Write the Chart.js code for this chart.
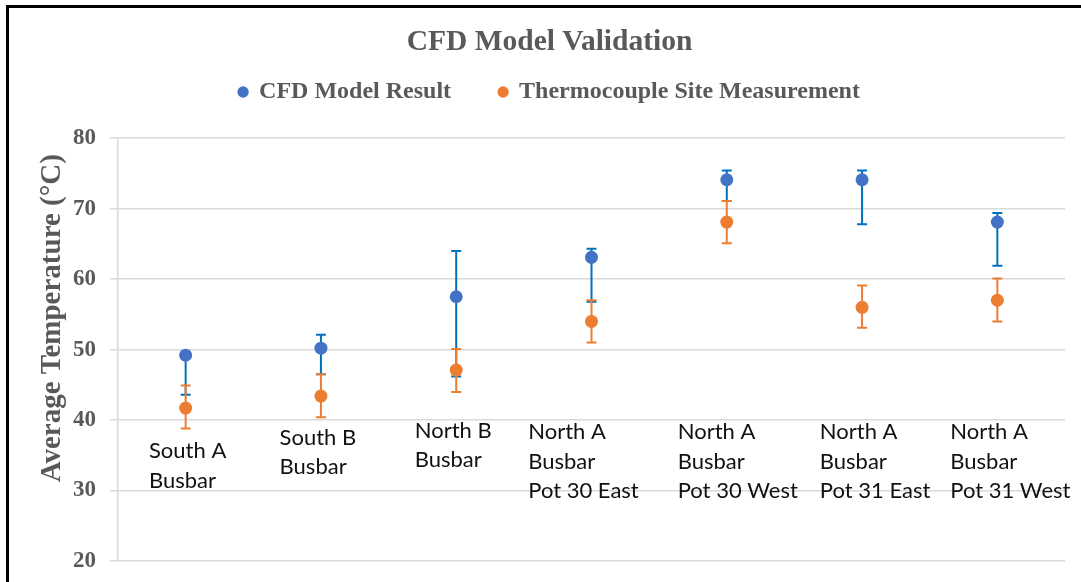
<!DOCTYPE html>
<html>
<head>
<meta charset="utf-8">
<script src="https://cdn.jsdelivr.net/npm/chart.js"></script>
<style>
  body { margin: 0; background: #fff; }
  #wrap { position: relative; width: 1081px; height: 582px; }
  #frame { position: absolute; left: 6px; top: 5px; right: 0; bottom: 0; border-top: 3px solid #000; border-left: 3px solid #000; pointer-events: none; }
</style>
</head>
<body>
<div id="wrap">
  <canvas id="chart" width="1081" height="582"></canvas>
  <div id="frame"></div>
</div>
<script>
// category names, one entry per text line
const categories = [
  ['South A', 'Busbar'],
  ['South B', 'Busbar'],
  ['North B', 'Busbar'],
  ['North A', 'Busbar', 'Pot 30 East'],
  ['North A', 'Busbar', 'Pot 30 West'],
  ['North A', 'Busbar', 'Pot 31 East'],
  ['North A', 'Busbar', 'Pot 31 West']
];

// CFD model result + error bar ends
const cfdValues = [49.2, 50.2, 57.5, 63.1, 74.1, 74.1, 68.1];
const cfdHigh = [49.7, 52.1, 64.0, 64.3, 75.4, 75.4, 69.4];
const cfdLow = [43.6, 46.5, 46.2, 56.8, 71.1, 67.8, 61.9];

// thermocouple site measurement + error bar ends
const tcValues = [41.7, 43.4, 47.1, 54.0, 68.1, 56.0, 57.0];
const tcHigh = [44.9, 46.5, 50.1, 57.0, 71.1, 59.1, 60.1];
const tcLow = [38.8, 40.4, 44.0, 51.0, 65.1, 53.1, 54.0];

const yTicks = [20, 30, 40, 50, 60, 70, 80];
const yTitle = 'Average Temperature (°C)';

// where each category label sits: first line (y units) and a small x nudge (px)
const labelTop = [35.6, 37.5, 38.5, 38.3, 38.3, 38.3, 38.3];
const labelShift = [2, -3, -3, -8, 11, 13, 13];

const serif = 'Liberation Serif';

// vertical error bars with caps
const errorBars = {
  id: 'errorBars',
  beforeDatasetsDraw(chart) {
    const ctx = chart.ctx;
    const y = chart.scales.y;
    chart.data.datasets.forEach((ds, i) => {
      const meta = chart.getDatasetMeta(i);
      ctx.save();
      ctx.strokeStyle = ds.errorColor;
      ctx.lineWidth = 2;
      meta.data.forEach((pt, j) => {
        const top = y.getPixelForValue(ds.errHigh[j]);
        const bot = y.getPixelForValue(ds.errLow[j]);
        ctx.beginPath();
        ctx.moveTo(pt.x, top);
        ctx.lineTo(pt.x, bot);
        ctx.moveTo(pt.x - 5, top);
        ctx.lineTo(pt.x + 5, top);
        ctx.moveTo(pt.x - 5, bot);
        ctx.lineTo(pt.x + 5, bot);
        ctx.stroke();
      });
      ctx.restore();
    });
  }
};

// category labels sit inside the plot, left aligned blocks
const categoryText = {
  id: 'categoryText',
  afterDatasetsDraw(chart) {
    const ctx = chart.ctx;
    const x = chart.scales.x;
    const y = chart.scales.y;
    ctx.save();
    ctx.font = '22px Lato';
    ctx.fillStyle = '#111';
    ctx.textBaseline = 'middle';
    ctx.textAlign = 'left';
    categories.forEach((lines, i) => {
      const w = Math.max(...lines.map(l => ctx.measureText(l).width));
      const left = x.getPixelForValue(i) - w / 2 + labelShift[i];
      const top = y.getPixelForValue(labelTop[i]);
      lines.forEach((l, k) => ctx.fillText(l, left, top + k * 29.5));
    });
    ctx.restore();
  }
};

// y axis title, sits a bit above the middle of the plot like in Excel
const axisTitle = {
  id: 'axisTitle',
  afterDraw(chart) {
    const ctx = chart.ctx;
    const area = chart.chartArea;
    ctx.save();
    ctx.translate(53, area.top + 180);
    ctx.rotate(-Math.PI / 2);
    ctx.font = 'bold 29px "' + serif + '"';
    ctx.fillStyle = '#595959';
    ctx.textAlign = 'center';
    ctx.textBaseline = 'middle';
    ctx.fillText(yTitle, 0, 0);
    ctx.restore();
  }
};

new Chart(document.getElementById('chart'), {
  type: 'line',
  data: {
    labels: categories,
    datasets: [{
      label: 'CFD Model Result',
      data: cfdValues,
      errHigh: cfdHigh,
      errLow: cfdLow,
      errorColor: '#0070C0',
      showLine: false,
      pointRadius: 6.5,
      pointBorderWidth: 0,
      pointBackgroundColor: '#4472C4',
      backgroundColor: '#4472C4',
      borderColor: '#4472C4'
    }, {
      label: 'Thermocouple Site Measurement',
      data: tcValues,
      errHigh: tcHigh,
      errLow: tcLow,
      errorColor: '#ED7D31',
      showLine: false,
      pointRadius: 6.5,
      pointBorderWidth: 0,
      pointBackgroundColor: '#ED7D31',
      backgroundColor: '#ED7D31',
      borderColor: '#ED7D31'
    }]
  },
  options: {
    responsive: false,
    animation: false,
    layout: { padding: { top: 0, left: 34, right: 16, bottom: 21 } },
    plugins: {
      title: {
        display: true,
        text: 'CFD Model Validation',
        color: '#595959',
        font: { family: serif, size: 29.5, weight: 'bold' },
        padding: { top: 24.3, bottom: -27.7 }
      },
      legend: {
        labels: {
          usePointStyle: true,
          pointStyle: 'circle',
          boxWidth: 8,
          boxHeight: 8,
          padding: 48,
          color: '#595959',
          font: { family: serif, size: 24, weight: 'bold' }
        }
      },
      tooltip: { enabled: false }
    },
    scales: {
      x: {
        type: 'category',
        position: 'top',
        offset: true,
        grid: { display: false, drawTicks: false },
        border: { display: false },
        ticks: { display: false },
        // empty title used as a spacer under the legend
        title: { display: true, text: '', font: { size: 1 }, padding: { top: 23, bottom: 0 } }
      },
      y: {
        min: 20,
        max: 80,
        afterFit(s) { s.width = 84; },
        afterBuildTicks(s) { s.ticks = yTicks.map(v => ({ value: v })); },
        grid: { color: '#D9D9D9', lineWidth: 1.5, tickLength: 8 },
        border: { color: '#D9D9D9', width: 1.5 },
        ticks: {
          color: '#595959',
          padding: 14,
          // small lineHeight keeps the end labels from shrinking the plot
          font: { family: serif, size: 23, weight: 'bold', lineHeight: 0.5 }
        },
        title: { display: false }
      }
    }
  },
  plugins: [errorBars, categoryText, axisTitle]
});
</script>
</body>
</html>
